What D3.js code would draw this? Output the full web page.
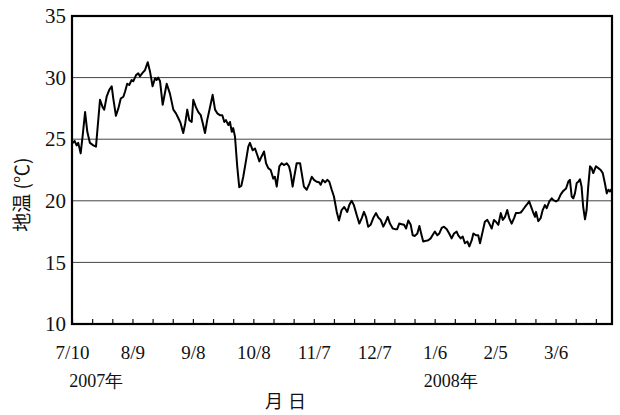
<!DOCTYPE html>
<html>
<head>
<meta charset="utf-8">
<script src="https://cdn.jsdelivr.net/npm/d3@7"></script>
<style>
  body { margin: 0; background: #fff; }
  text { fill: #111; }
</style>
</head>
<body>
<svg width="620" height="415"></svg>
<script>
// days since 2007-07-10 and soil temperature
var days = [
  0.3,1.3,2.3,3.1,4.3,5.3,6.5,7.6,8.9,10.6,11.9,13.9,15.2,16.0,17.2,18.5,19.7,20.5,21.8,23.0,
  24.2,25.5,26.3,27.4,28.4,29.6,30.4,31.8,32.9,33.7,35.1,36.2,37.6,38.7,40.0,41.2,42.0,42.8,43.7,45.0,
  47.0,48.6,50.3,51.6,52.8,53.9,55.2,56.2,57.2,58.2,59.4,60.2,61.5,62.7,63.9,64.9,66.0,67.1,68.5,69.8,
  71.0,72.1,73.4,74.6,75.6,76.4,77.6,78.4,79.3,80.0,80.9,82.0,83.0,84.0,85.0,86.4,87.5,88.3,89.7,90.8,
  92.0,93.0,94.1,95.3,96.3,97.4,98.6,99.9,100.7,101.6,102.9,104.1,105.2,106.6,107.7,108.5,109.5,110.3,111.5,113.2,
  114.0,115.1,116.5,117.8,119.0,120.1,121.4,122.6,123.4,124.4,125.6,126.7,127.7,128.9,130.0,131.4,132.5,133.8,135.1,
  136.6,137.6,138.8,139.9,141.3,142.6,143.8,144.9,145.9,147.0,148.2,149.5,150.9,152.0,153.2,154.5,155.7,156.7,157.8,159.2,
  160.3,161.4,162.4,163.6,164.8,165.8,166.9,168.1,169.1,170.2,171.4,172.4,173.5,174.3,175.7,176.8,178.0,179.3,
  180.1,181.3,182.3,183.5,184.6,186.0,187.2,188.4,189.6,190.9,191.7,192.9,193.9,195.0,196.2,197.2,198.4,199.2,200.5,201.6,
  202.5,203.8,204.9,206.1,207.1,208.3,209.4,210.4,211.6,212.8,213.8,214.9,216.0,217.0,218.2,219.4,220.3,221.5,222.7,
  223.7,224.8,226.0,226.9,228.1,228.9,229.8,230.3,231.4,232.6,233.6,234.7,235.6,236.9,238.1,238.9,240.2,241.3,242.5,243.8,
  245.2,246.3,247.1,248.0,248.8,249.6,250.5,251.3,252.1,252.9,253.7,254.6,255.4,256.2,257.1,257.9,258.7,260.0,261.2,262.4,
  263.4,264.5,265.4,266.2,267.0,267.8
];
var temps = [
  24.7,24.85,24.5,24.7,23.85,25.3,27.2,25.6,24.7,24.5,24.4,28.2,27.6,27.4,28.45,29.0,29.3,28.3,26.9,27.5,
  28.3,28.45,28.85,29.5,29.4,29.8,29.7,30.2,30.35,30.1,30.4,30.6,31.25,30.5,29.3,29.95,29.8,30.0,29.7,27.8,
  29.5,28.7,27.4,27.1,26.7,26.3,25.5,26.3,27.4,26.55,26.4,28.2,27.6,27.2,26.95,26.3,25.5,26.55,27.6,28.6,
  27.4,27.1,26.95,26.95,26.4,26.55,26.15,26.4,25.6,25.9,25.2,22.8,21.1,21.2,21.95,23.3,24.4,24.7,24.1,24.25,
  23.7,23.2,23.6,24.0,23.05,22.65,22.5,21.8,21.95,21.15,22.8,23.05,22.9,23.05,22.8,22.25,21.15,21.95,23.05,23.05,
  22.25,21.15,20.9,21.4,21.95,21.7,21.55,21.5,21.3,21.7,21.5,21.7,21.55,20.9,20.35,19.1,18.4,19.25,19.5,
  19.1,19.65,20.0,19.65,18.85,18.15,18.6,19.1,18.7,17.9,18.05,18.6,19.0,18.65,18.45,17.9,18.3,18.7,18.15,17.75,
  17.7,17.7,18.15,18.1,18.05,17.75,18.4,18.05,17.2,17.15,17.35,17.95,17.2,16.7,16.75,16.8,16.95,17.3,
  17.5,17.2,17.35,17.8,17.9,17.7,17.35,16.95,17.35,17.5,17.2,16.95,17.1,16.55,16.7,16.3,16.8,17.35,17.2,17.2,
  16.55,17.5,18.3,18.45,18.15,17.75,18.45,18.3,18.05,19.0,18.45,18.7,19.25,18.6,18.15,18.6,19.0,19.0,19.05,
  19.25,19.5,19.75,19.95,19.4,19.05,18.7,19.1,18.35,18.6,19.25,19.65,19.4,19.95,20.2,20.05,19.95,20.05,20.5,20.8,
  21.0,21.55,21.7,20.35,20.2,20.6,21.45,21.55,21.75,21.15,19.5,18.5,19.25,21.15,22.8,22.65,22.25,22.8,22.65,22.5,
  22.25,21.4,20.6,20.9,20.75,20.95
];
var yTicks = [10, 15, 20, 25, 30, 35];
var gridValues = [15, 20, 25, 30];
var yearLabels = [
  {date: new Date(2007, 6, 22), text: "2007年"},
  {date: new Date(2008, 0, 14), text: "2008年"}
];

var SERIF = "'Liberation Serif', 'DejaVu Serif', 'Noto Serif', serif";
var CJK = "'Noto Sans CJK SC', sans-serif";

var svg = d3.select("svg"),
    margin = {top: 16, right: 8, bottom: 91, left: 72},
    width = +svg.attr("width") - margin.left - margin.right,
    height = +svg.attr("height") - margin.top - margin.bottom;

var start = new Date(2007, 6, 10);
var end = new Date(2008, 3, 3);

var data = days.map(function (d, i) {
  return {date: new Date(start.getTime() + d * 864e5), value: temps[i]};
});

var x = d3.scaleTime().domain([start, end]).range([0, width]);
var y = d3.scaleLinear().domain([10, 35]).range([height, 0]);

var g = svg.append("g")
    .attr("transform", "translate(" + margin.left + "," + margin.top + ")");

// grid lines
g.selectAll(".grid")
  .data(gridValues)
  .enter().append("line")
    .attr("x1", 0)
    .attr("x2", width)
    .attr("y1", function (d) { return y(d); })
    .attr("y2", function (d) { return y(d); })
    .attr("stroke", "#444")
    .attr("stroke-width", 1);

// ticks every 10 days, label every 30
var tickDates = d3.range(0, 27).map(function (i) { return d3.timeDay.offset(start, i * 10); });
var fmt = d3.timeFormat("%-m/%-d");

var xAxis = d3.axisBottom(x)
    .tickValues(tickDates)
    .tickSizeInner(-5)
    .tickSizeOuter(0)
    .tickPadding(22)
    .tickFormat(function (d, i) { return i % 3 === 0 ? fmt(d) : ""; });

var xg = g.append("g")
    .attr("transform", "translate(0," + height + ")")
    .call(xAxis);
xg.select(".domain").remove();
xg.selectAll(".tick line").attr("stroke", "#111").attr("stroke-width", 1.2);
xg.selectAll(".tick text")
    .style("font-family", SERIF)
    .style("font-size", "19px")
    .attr("fill", "#111");

var yAxis = d3.axisLeft(y)
    .tickValues(yTicks)
    .tickSize(0)
    .tickPadding(6);

var yg = g.append("g").call(yAxis);
yg.select(".domain").remove();
yg.selectAll(".tick text")
    .style("font-family", SERIF)
    .style("font-size", "21px")
    .attr("fill", "#111");

// temperature line
var line = d3.line()
    .x(function (d) { return x(d.date); })
    .y(function (d) { return y(d.value); });

g.append("path")
    .datum(data)
    .attr("fill", "none")
    .attr("stroke", "#000")
    .attr("stroke-width", 2)
    .attr("stroke-linejoin", "round")
    .attr("d", line);

// frame
g.append("rect")
    .attr("width", width)
    .attr("height", height)
    .attr("fill", "none")
    .attr("stroke", "#000")
    .attr("stroke-width", 2.2);

// year labels
g.selectAll(".year")
  .data(yearLabels)
  .enter().append("text")
    .attr("x", function (d) { return x(d.date); })
    .attr("y", height + 63)
    .attr("text-anchor", "middle")
    .style("font-family", SERIF)
    .style("font-size", "18px")
    .text(function (d) { return d.text; });

// axis titles
g.append("text")
    .attr("x", width / 2 - 54)
    .attr("y", height + 84)
    .attr("text-anchor", "middle")
    .style("font-family", CJK)
    .style("font-size", "18px")
    .attr("letter-spacing", 5)
    .text("月日");

g.append("text")
    .attr("transform", "translate(-43," + (y(20.5)) + ") rotate(-90)")
    .attr("text-anchor", "middle")
    .style("font-family", CJK)
    .style("font-size", "19px")
    .text("地温 (℃)");
</script>
</body>
</html>
